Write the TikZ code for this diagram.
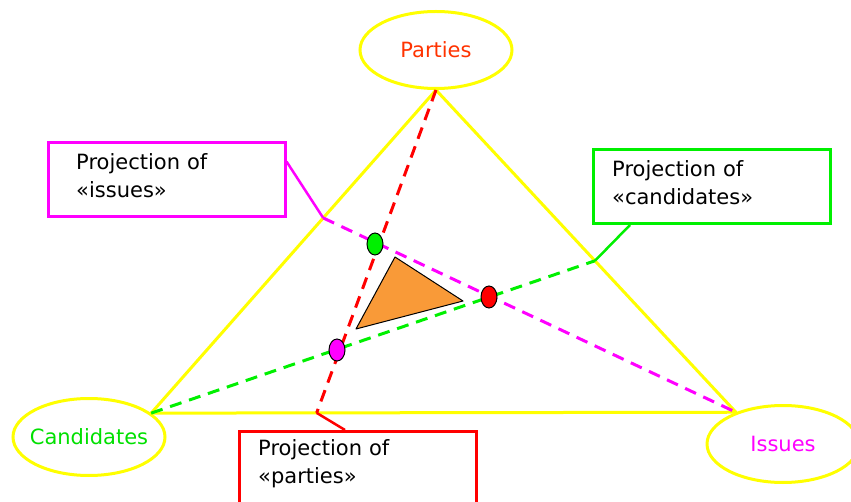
\documentclass[tikz,border=0pt]{standalone}
\usepackage{fontspec}
\setmainfont{DejaVu Sans}
\usetikzlibrary{shapes.geometric,calc}
\definecolor{yel}{HTML}{FFFF00}
\definecolor{mag}{HTML}{FF00FF}
\definecolor{grn}{HTML}{00F000}
\definecolor{grntxt}{HTML}{00E000}
\definecolor{rd}{HTML}{FF0000}
\definecolor{partytxt}{HTML}{FF3300}
\definecolor{orng}{HTML}{F99A38}
\begin{document}
\begin{tikzpicture}[x=1pt,y=-1pt,
  every node/.style={font=\fontsize{21}{28}\selectfont},
  vertex/.style={ellipse, draw=yel, line width=3pt, fill=white, minimum width=152pt, minimum height=77pt, inner xsep=-20pt, inner ysep=0pt},
  callout/.style={draw, line width=3pt, fill=white, minimum width=237pt, minimum height=74pt, inner sep=0pt},
  calltext/.style={anchor=base west, inner sep=0pt, align=left, text width=200pt, text=black},
  proj/.style={line width=3pt, dash pattern=on 12pt off 8pt},
  lead/.style={line width=2.5pt},
  dot/.style={ellipse, draw=black, line width=1pt, minimum width=16pt, minimum height=22pt, inner sep=0pt},
]
\useasboundingbox (0,0) rectangle (851,502);
\clip (0,0) rectangle (851,502);

% vertices
\node[vertex, text=partytxt] (parties) at (436,50) {Parties};
\node[vertex, text=grntxt] (candidates) at (89,437) {Candidates};
\node[vertex, text=mag] (issues) at (783,444) {Issues};

\coordinate (tA) at (parties.south);
\coordinate (tB) at (candidates.21);
\coordinate (tC) at (issues.146);
\coordinate (pL) at ($(tA)!0.396!(tB)$);
\coordinate (pR) at ($(tA)!0.53!(tC)$);
\coordinate (pB) at ($(tB)!0.283!(tC)$);

% big triangle
\draw[yel, line width=3pt, line join=round] (tA) -- (tB) -- (tC) -- cycle;

% projection lines
\draw[proj, rd] (tA) -- (pB);
\draw[proj, mag] (pL) -- (tC);
\draw[proj, grn] (tB) -- (pR);

% inner triangle
\draw[fill=orng, draw=black, line width=1pt, line join=round] (395,257) -- (463,301) -- (356,329) -- cycle;

% intersection dots
\node[dot, fill=grn] (dg) at (375,244) {};
\node[dot, fill=mag] (dm) at (337,350) {};
\node[dot, fill=rd] (dr) at (489,297) {};

% callouts
\node[callout, draw=mag] (ibox) at (166.5,180) {};
\node[calltext] (itext) at (76,170) {Projection of\\«issues»};
\draw[lead, mag] ($(ibox.north east)+(0,20)$) -- (pL);

\node[callout, draw=grn] (cbox) at (712,186.5) {};
\node[calltext] (ctext) at (612,177) {Projection of\\«candidates»};
\draw[lead, grn] ($(cbox.south west)+(38,0)$) -- (pR);

\node[callout, draw=rd, minimum height=90pt, anchor=north west] (pbox) at (238,430) {};
\node[calltext] (ptext) at (258,455) {Projection of\\«parties»};
\draw[lead, rd] (pB) -- ($(pbox.north west)+(107,0)$);
\end{tikzpicture}
\end{document}
